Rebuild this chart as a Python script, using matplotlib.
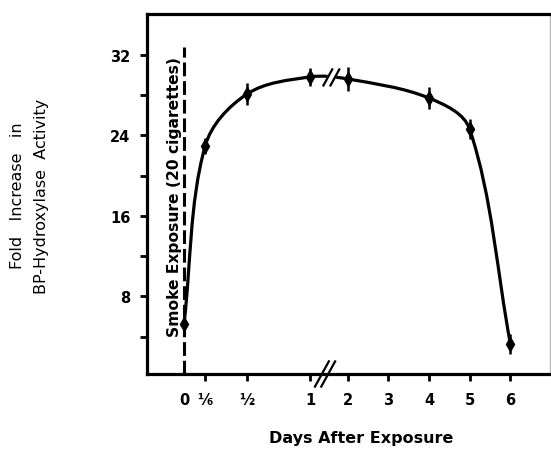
import numpy as np
import matplotlib.pyplot as plt
from matplotlib.path import Path
from matplotlib.patches import PathPatch, Polygon

# BP-hydroxylase induction after a single smoke exposure
days = [0, 1/6, 1/2, 1, 2, 4, 5, 6]
fold = [5.3, 22.9, 28.1, 29.8, 29.6, 27.7, 24.6, 3.3]
err = [0.8, 0.8, 1.1, 0.9, 1.2, 1.1, 1.0, 1.0]

tick_days = [0, 1/6, 1/2, 1, 2, 3, 4, 5, 6]
tick_labels = ['0', '⅙', '½', '1', '2', '3', '4', '5', '6']

# broken time axis: first day stretched, days 2-6 compressed
GAP = 0.30
STEP = 0.323


def day_pos(d):
    d = np.asarray(d, float)
    return np.where(d <= 1, d, 1 + GAP + (d - 2) * STEP)


def smooth_path(x, y, sx=126.0, sy=10.07):
    """Smooth curve through the points, as cubic bezier segments.
    Handles follow the neighbour chord and scale with each segment."""
    p = np.column_stack([np.asarray(x) * sx, np.asarray(y) * sy])
    n = len(p)
    tang = np.empty_like(p)
    for i in range(n):
        a = p[max(i - 1, 0)]
        b = p[min(i + 1, n - 1)]
        v = b - a
        tang[i] = v / np.hypot(*v)
    verts = [p[0]]
    codes = [Path.MOVETO]
    for i in range(n - 1):
        seg = np.hypot(*(p[i + 1] - p[i])) / 3
        verts += [p[i] + tang[i] * seg, p[i + 1] - tang[i + 1] * seg, p[i + 1]]
        codes += [Path.CURVE4] * 3
    verts = np.array(verts) / [sx, sy]
    return Path(verts, codes)


plt.rcParams['font.family'] = ['DejaVu Sans']

fig = plt.figure(figsize=(5.51, 4.52), dpi=100)
ax = fig.add_axes([0.2668, 0.1704, 0.7322, 0.7964])

x = day_pos(days)

ax.add_patch(PathPatch(smooth_path(x, fold), fill=False, lw=2.3,
                       color='black', capstyle='round', zorder=3))
ax.errorbar(x, fold, yerr=err, fmt='none', ecolor='black',
            elinewidth=1.8, capsize=0, zorder=4)
ax.plot(x, fold, 'd', color='black', markersize=7, zorder=5)

# break marks on the curve between day 1 and day 2
bx = 1 + GAP / 2 + 0.02
by = 29.75
ax.add_patch(Polygon([[bx - 0.06, by - 0.7], [bx + 0.0, by + 0.7],
                      [bx + 0.06, by + 0.7], [bx + 0.0, by - 0.7]],
                     closed=True, color='white', zorder=6))
for dx in (-0.028, 0.028):
    ax.plot([bx + dx - 0.035, bx + dx + 0.035], [by - 0.8, by + 0.8],
            color='black', lw=1.6, zorder=7)

# break marks on the x axis
sx0 = 1.12
for dx in (-0.025, 0.025):
    ax.plot([sx0 + dx - 0.055, sx0 + dx + 0.055], [-0.035, 0.035],
            color='black', lw=1.6, transform=ax.get_xaxis_transform(),
            clip_on=False, zorder=7)

# smoke exposure marker at day 0
ax.plot([0, 0], [0.3, 32.8], color='black', lw=2.2,
        dashes=(4.5, 1.6), zorder=2)
ax.text(-0.075, 18.0, 'Smoke Exposure (20 cigarettes)', rotation=90,
        ha='center', va='center', fontsize=11.2, fontweight='bold')

ax.set_xlim(-0.294, 2.91)
ax.set_ylim(0.3, 36.05)

ax.set_xticks(day_pos(tick_days))
ax.set_xticklabels(tick_labels, fontweight='bold', fontsize=10.5)
ax.get_xticklines()[0].set_visible(False)
ax.set_yticks([8, 16, 24, 32])
ax.set_yticklabels(['8', '16', '24', '32'], fontweight='bold', fontsize=10.5)
ax.set_yticks([4, 12, 20, 28], minor=True)
ax.tick_params(axis='both', which='both', direction='out', length=5,
               width=2, color='black')
ax.tick_params(axis='x', pad=8)
ax.tick_params(axis='y', pad=7)

for side in ('left', 'top', 'bottom'):
    ax.spines[side].set_linewidth(2.3)
ax.spines['right'].set_linewidth(1.0)
ax.spines['right'].set_color('#b8b8b8')

fig.text(0.655, 0.03, 'Days After Exposure', ha='center',
         va='center', fontsize=11.5, fontweight='bold')
fig.text(0.031, 0.566, 'Fold   Increase   in', rotation=90, ha='center',
         va='center', fontsize=11.5)
fig.text(0.075, 0.566, 'BP-Hydroxylase  Activity', rotation=90,
         ha='center', va='center', fontsize=11.5)

fig.savefig('out.png', dpi=100)
